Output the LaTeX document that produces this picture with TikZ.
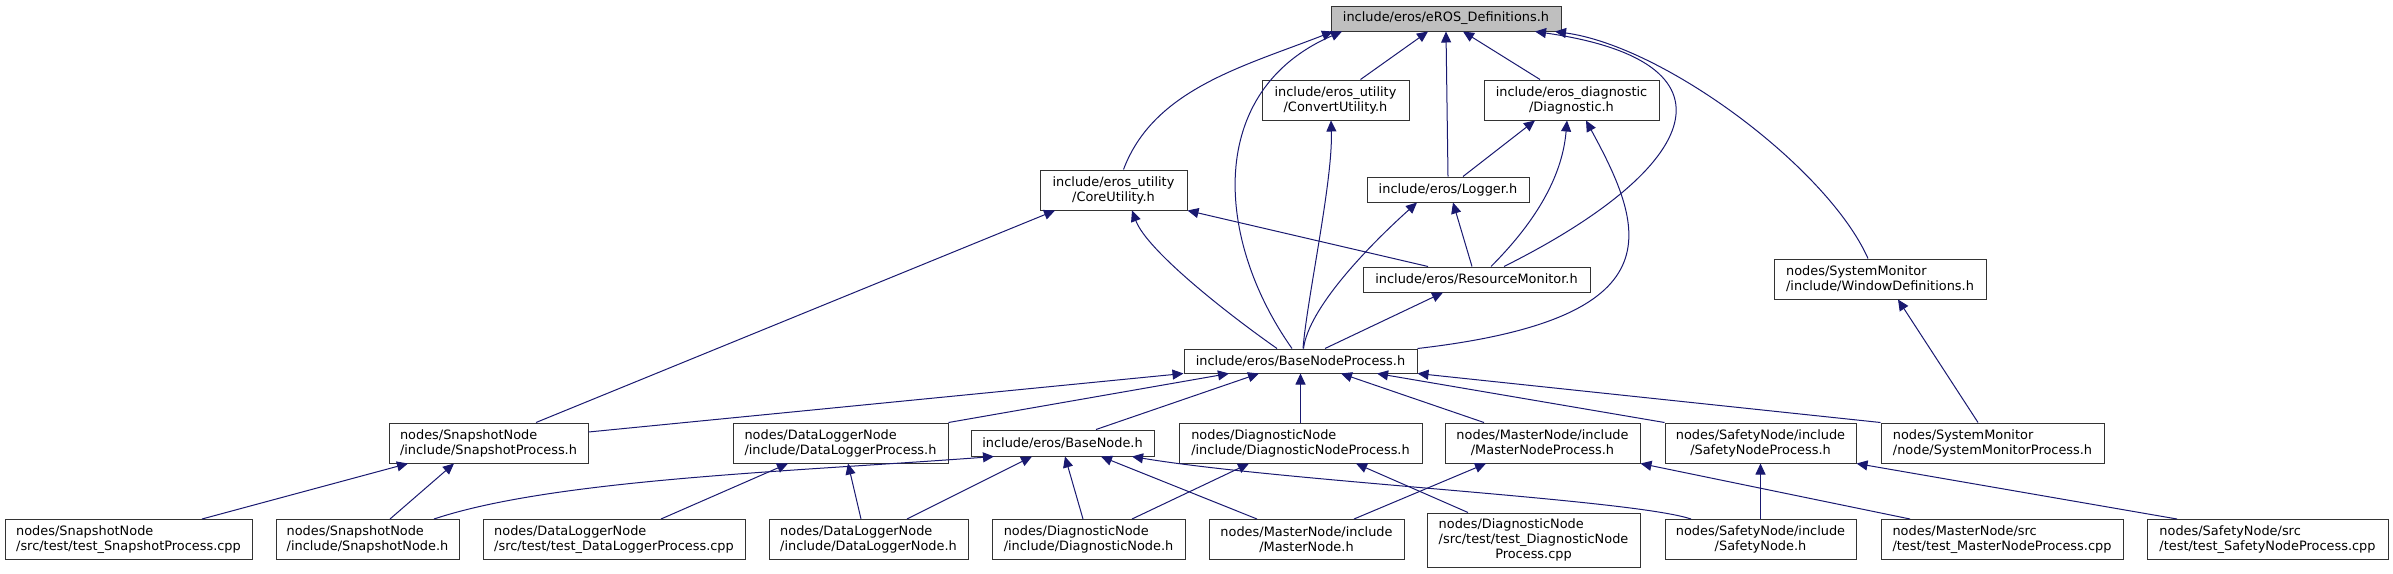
\documentclass[tikz,border=0pt]{standalone}
\usepackage{fontspec}
\setmainfont{DejaVu Sans}
\definecolor{edgeblue}{RGB}{25,25,112}
\definecolor{rootgray}{RGB}{191,191,191}
\usetikzlibrary{arrows.meta}

\begin{document}
\begin{tikzpicture}[x=1pt, y=-1pt, every node/.style={font=\fontsize{12.9}{15}\selectfont},
  bx/.style={draw=black!80, fill=white, line width=1pt, inner sep=0pt, minimum height=40pt, align=center},
  bxl/.style={bx, align=left},
  dep/.style={edgeblue, line width=1pt, -{Triangle[length=11pt,width=10pt]}}]
\useasboundingbox (0,0) rectangle (2393,573);
% Header tree
\node[bx, fill=rootgray, minimum width=230, minimum height=25] (defs) at (1446,18.5) {include/eros/eROS\_Definitions.h};
\node[bx, minimum width=147] (conv) at (1335.5,100) {include/eros\_utility\\/ConvertUtility.h};
\node[bx, minimum width=175] (diag) at (1571.5,100) {include/eros\_diagnostic\\/Diagnostic.h};
\node[bx, minimum width=147] (core) at (1113.5,190) {include/eros\_utility\\/CoreUtility.h};
\node[bx, minimum width=162, minimum height=25] (logger) at (1448,189.5) {include/eros/Logger.h};
\node[bx, minimum width=227, minimum height=25] (resmon) at (1476.5,279.5) {include/eros/ResourceMonitor.h};
\node[bxl, minimum width=212] (windef) at (1880,279) {nodes/SystemMonitor\\/include/WindowDefinitions.h};
\node[bx, minimum width=233, minimum height=24] (bnp) at (1300.5,361) {include/eros/BaseNodeProcess.h};
% Process headers
\node[bxl, minimum width=199] (snapproc) at (488.5,443) {nodes/SnapshotNode\\/include/SnapshotProcess.h};
\node[bxl, minimum width=215] (dlproc) at (840.5,443) {nodes/DataLoggerNode\\/include/DataLoggerProcess.h};
\node[bx, minimum width=183, minimum height=26] (basenode) at (1062.5,443) {include/eros/BaseNode.h};
\node[bxl, minimum width=243] (dnproc) at (1300.5,443) {nodes/DiagnosticNode\\/include/DiagnosticNodeProcess.h};
\node[bx, minimum width=195] (mnproc) at (1542.5,443) {nodes/MasterNode/include\\/MasterNodeProcess.h};
\node[bx, minimum width=191] (snproc) at (1760.5,443) {nodes/SafetyNode/include\\/SafetyNodeProcess.h};
\node[bxl, minimum width=223] (smproc) at (1992.5,443) {nodes/SystemMonitor\\/node/SystemMonitorProcess.h};
% Bottom row
\node[bxl, minimum width=247] (tsnap) at (128.5,539.5) {nodes/SnapshotNode\\/src/test/test\_SnapshotProcess.cpp};
\node[bxl, minimum width=183] (snapnode) at (367.5,539.5) {nodes/SnapshotNode\\/include/SnapshotNode.h};
\node[bxl, minimum width=262] (tdl) at (614,539.5) {nodes/DataLoggerNode\\/src/test/test\_DataLoggerProcess.cpp};
\node[bxl, minimum width=199] (dlnode) at (868.5,539.5) {nodes/DataLoggerNode\\/include/DataLoggerNode.h};
\node[bxl, minimum width=193] (dnode) at (1088.5,539.5) {nodes/DiagnosticNode\\/include/DiagnosticNode.h};
\node[bx, minimum width=195] (mnode) at (1306.5,539.5) {nodes/MasterNode/include\\/MasterNode.h};
\node[bx, minimum width=213, minimum height=54] (tdn) at (1533.5,540) {\begin{tabular}{@{}l@{}}nodes/DiagnosticNode\\/src/test/test\_DiagnosticNode\\\multicolumn{1}{@{}c@{}}{Process.cpp}\end{tabular}};
\node[bx, minimum width=191] (snode) at (1760.5,539.5) {nodes/SafetyNode/include\\/SafetyNode.h};
\node[bxl, minimum width=242] (tmn) at (2002,539.5) {nodes/MasterNode/src\\/test/test\_MasterNodeProcess.cpp};
\node[bxl, minimum width=241] (tsn) at (2267.5,539.5) {nodes/SafetyNode/src\\/test/test\_SafetyNodeProcess.cpp};
% eROS_Definitions.h
\draw[dep] ([shift={(10,0)}]core.north) .. controls +(30,-80) and +(-90,35) .. ([shift={(-113,0)}]defs.south);
\draw[dep] ([shift={(-8.5,0)}]bnp.north) .. controls +(-77,-109) and +(-137,59) .. ([shift={(-104,0)}]defs.south);
\draw[dep] ([shift={(25,0)}]conv.north) -- ([shift={(-18,0)}]defs.south);
\draw[dep] (logger.north) -- (defs.south);
\draw[dep] ([shift={(-31.5,0)}]diag.north) -- ([shift={(17,0)}]defs.south);
\draw[dep] ([shift={(27.5,0)}]resmon.north) .. controls +(200,-100) and +(210,30) .. ([shift={(89,0)}]defs.south);
\draw[dep] ([shift={(-12,0)}]windef.north) .. controls +(-40,-90) and +(110,15) .. ([shift={(109,0)}]defs.south);
% Diagnostic.h
\draw[dep] ([shift={(15,0)}]logger.north) -- ([shift={(-36.5,0)}]diag.south);
\draw[dep] ([shift={(14.5,0)}]resmon.north) .. controls +(40,-40) and +(-5,60) .. ([shift={(-4.5,0)}]diag.south);
\draw[dep] (bnp.north east) .. controls +(260,-30) and +(60,110) .. ([shift={(14.5,0)}]diag.south);
% utility, logger, monitor
\draw[dep] ([shift={(2.5,0)}]bnp.north) .. controls +(4,-50) and +(2,60) .. ([shift={(-4.5,0)}]conv.south);
\draw[dep] ([shift={(3,0)}]bnp.north) .. controls +(5,-40) and +(-50,45) .. ([shift={(-31,0)}]logger.south);
\draw[dep] ([shift={(-23.5,0)}]bnp.north) .. controls +(-50,-35) and +(15,40) .. ([shift={(18.5,0)}]core.south);
\draw[dep] ([shift={(47.5,0)}]snapproc.north) -- ([shift={(-58.5,0)}]core.south);
\draw[dep] ([shift={(-48.5,0)}]resmon.north) -- (core.south east);
\draw[dep] ([shift={(-4.5,0)}]resmon.north) -- ([shift={(5,0)}]logger.south);
\draw[dep] ([shift={(24.5,0)}]bnp.north) -- ([shift={(-33.5,0)}]resmon.south);
\draw[dep] ([shift={(-14.5,0)}]smproc.north) -- ([shift={(18,0)}]windef.south);
% BaseNodeProcess.h
\draw[dep] ([shift={(0,-11)}]snapproc.east) -- (bnp.south west);
\draw[dep] (dlproc.north east) -- ([shift={(-71.5,0)}]bnp.south);
\draw[dep] ([shift={(33.5,0)}]basenode.north) -- ([shift={(-41.5,0)}]bnp.south);
\draw[dep] (dnproc.north) -- (bnp.south);
\draw[dep] ([shift={(-58.5,0)}]mnproc.north) -- ([shift={(40.5,0)}]bnp.south);
\draw[dep] (snproc.north west) -- ([shift={(76.5,0)}]bnp.south);
\draw[dep] (smproc.north west) -- (bnp.south east);
% process headers
\draw[dep] ([shift={(73.5,0)}]tsnap.north) -- ([shift={(-80.5,0)}]snapproc.south);
\draw[dep] ([shift={(22.5,0)}]snapnode.north) -- ([shift={(-34.5,0)}]snapproc.south);
\draw[dep] ([shift={(66.5,0)}]snapnode.north) .. controls +(120,-40) and +(-200,15) .. ([shift={(-68.5,0)}]basenode.south);
\draw[dep] ([shift={(38.5,0)}]dlnode.north) -- ([shift={(-30.5,0)}]basenode.south);
\draw[dep] ([shift={(-5.5,0)}]dnode.north) -- ([shift={(2.5,0)}]basenode.south);
\draw[dep] ([shift={(-49.5,0)}]mnode.north) -- ([shift={(38.5,0)}]basenode.south);
\draw[dep] ([shift={(-69.5,0)}]snode.north) .. controls +(-60,-20) and +(150,25) .. ([shift={(69.5,0)}]basenode.south);
\draw[dep] ([shift={(47,0)}]tdl.north) -- ([shift={(-52.5,0)}]dlproc.south);
\draw[dep] ([shift={(-7.5,0)}]dlnode.north) -- ([shift={(7.5,0)}]dlproc.south);
\draw[dep] ([shift={(43.5,0)}]dnode.north) -- ([shift={(-51.5,0)}]dnproc.south);
\draw[dep] ([shift={(-65.5,0)}]tdn.north) -- ([shift={(55.5,0)}]dnproc.south);
\draw[dep] ([shift={(47.5,0)}]mnode.north) -- ([shift={(-56.5,0)}]mnproc.south);
\draw[dep] ([shift={(-92,0)}]tmn.north) -- (mnproc.south east);
\draw[dep] (snode.north) -- (snproc.south);
\draw[dep] ([shift={(-90.5,0)}]tsn.north) -- (snproc.south east);
\end{tikzpicture}
\end{document}
